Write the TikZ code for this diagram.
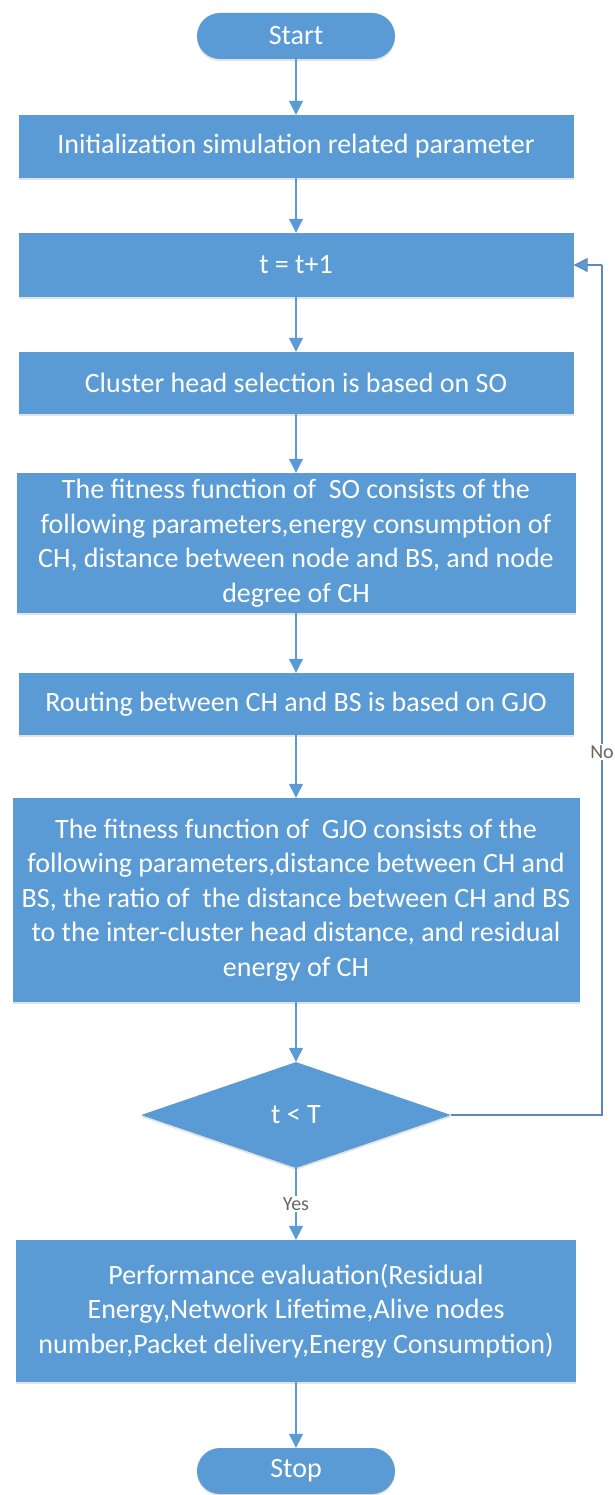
\documentclass[tikz,border=0pt]{standalone}
\usepackage{fontspec}
\setmainfont{Carlito}
\usetikzlibrary{arrows.meta,shapes.geometric,shadows}
\definecolor{fbblue}{HTML}{5B9BD5}
\definecolor{lnblue}{HTML}{5B9BD5}
\definecolor{fbline}{HTML}{5E86B8}
\definecolor{lblgray}{HTML}{666666}
\begin{document}
\begin{tikzpicture}[x=1pt,y=-1pt,
  shd/.style={drop shadow={shadow xshift=0pt,shadow yshift=-2pt,opacity=0.22}},
  box/.style={rectangle, fill=fbblue, text=white, align=center, inner sep=0pt,
    font=\fontsize{28}{34.5}\selectfont, shd},
  term/.style={box, rounded corners=23pt},
  decis/.style={diamond, fill=fbblue, text=white, inner sep=0pt, aspect=2.92,
    minimum width=310pt, minimum height=106pt, font=\fontsize{28}{34.5}\selectfont, shd},
  flow/.style={draw=lnblue, line width=1.5pt, -{Triangle[width=14pt,length=14pt]}},
  back/.style={draw=fbline, line width=1.2pt},
  backarr/.style={back, -{Triangle[width=14pt,length=14pt,fill=lnblue]}},
  lbl/.style={fill=white, text=lblgray, inner sep=1.5pt, font=\fontsize{20}{24}\selectfont}
]
\useasboundingbox (0,0) rectangle (615,1495);
\fill[white] (0,0) rectangle (615,1495);

\node[term, minimum width=198pt, minimum height=46pt] (start) at (296,36) {Start};
\node[box, minimum width=555pt, minimum height=63pt] (init) at (296,146.5) {Initialization simulation related parameter};
\node[box, minimum width=555pt, minimum height=64pt] (tt) at (296,265) {t = t+1};
\node[box, minimum width=555pt, minimum height=62pt] (ch) at (296,383) {Cluster head selection is based on SO};
\node[box, minimum width=559pt, minimum height=140pt] (so) at (296,543) {The fitness function of \ SO consists of the\\following parameters,energy consumption of\\CH, distance between node and BS, and node\\degree of CH};
\node[box, minimum width=555pt, minimum height=62pt] (rt) at (296,704) {Routing between CH and BS is based on GJO};
\node[box, minimum width=567pt, minimum height=204pt] (gjo) at (296,900) {The fitness function of \ GJO consists of the\\following parameters,distance between CH and\\BS, the ratio of \ the distance between CH and BS\\to the inter-cluster head distance, and residual\\energy of CH};
\node[decis] (dia) at (296,1115) {t < T};
\node[box, minimum width=560pt, minimum height=142pt] (perf) at (296,1311) {Performance evaluation(Residual\\Energy,Network Lifetime,Alive nodes\\number,Packet delivery,Energy Consumption)};
\node[term, minimum width=198pt, minimum height=46pt] (stop) at (296,1471) {Stop};

\draw[flow] (start) -- (init);
\draw[flow] (init) -- (tt);
\draw[flow] (tt) -- (ch);
\draw[flow] (ch) -- (so);
\draw[flow] (so) -- (rt);
\draw[flow] (rt) -- (gjo);
\draw[flow] (gjo) -- (dia);
\draw[flow] (dia) -- node[lbl] {Yes} (perf);
\draw[flow] (perf) -- (stop);

\coordinate (c1) at (602,1115);
\coordinate (c2) at (602,265);
\draw[back] (dia.east) -- (c1) -- node[lbl, pos=0.427] {No} (c2);
\draw[backarr] (c2) -- (tt.east);
\end{tikzpicture}
\end{document}
